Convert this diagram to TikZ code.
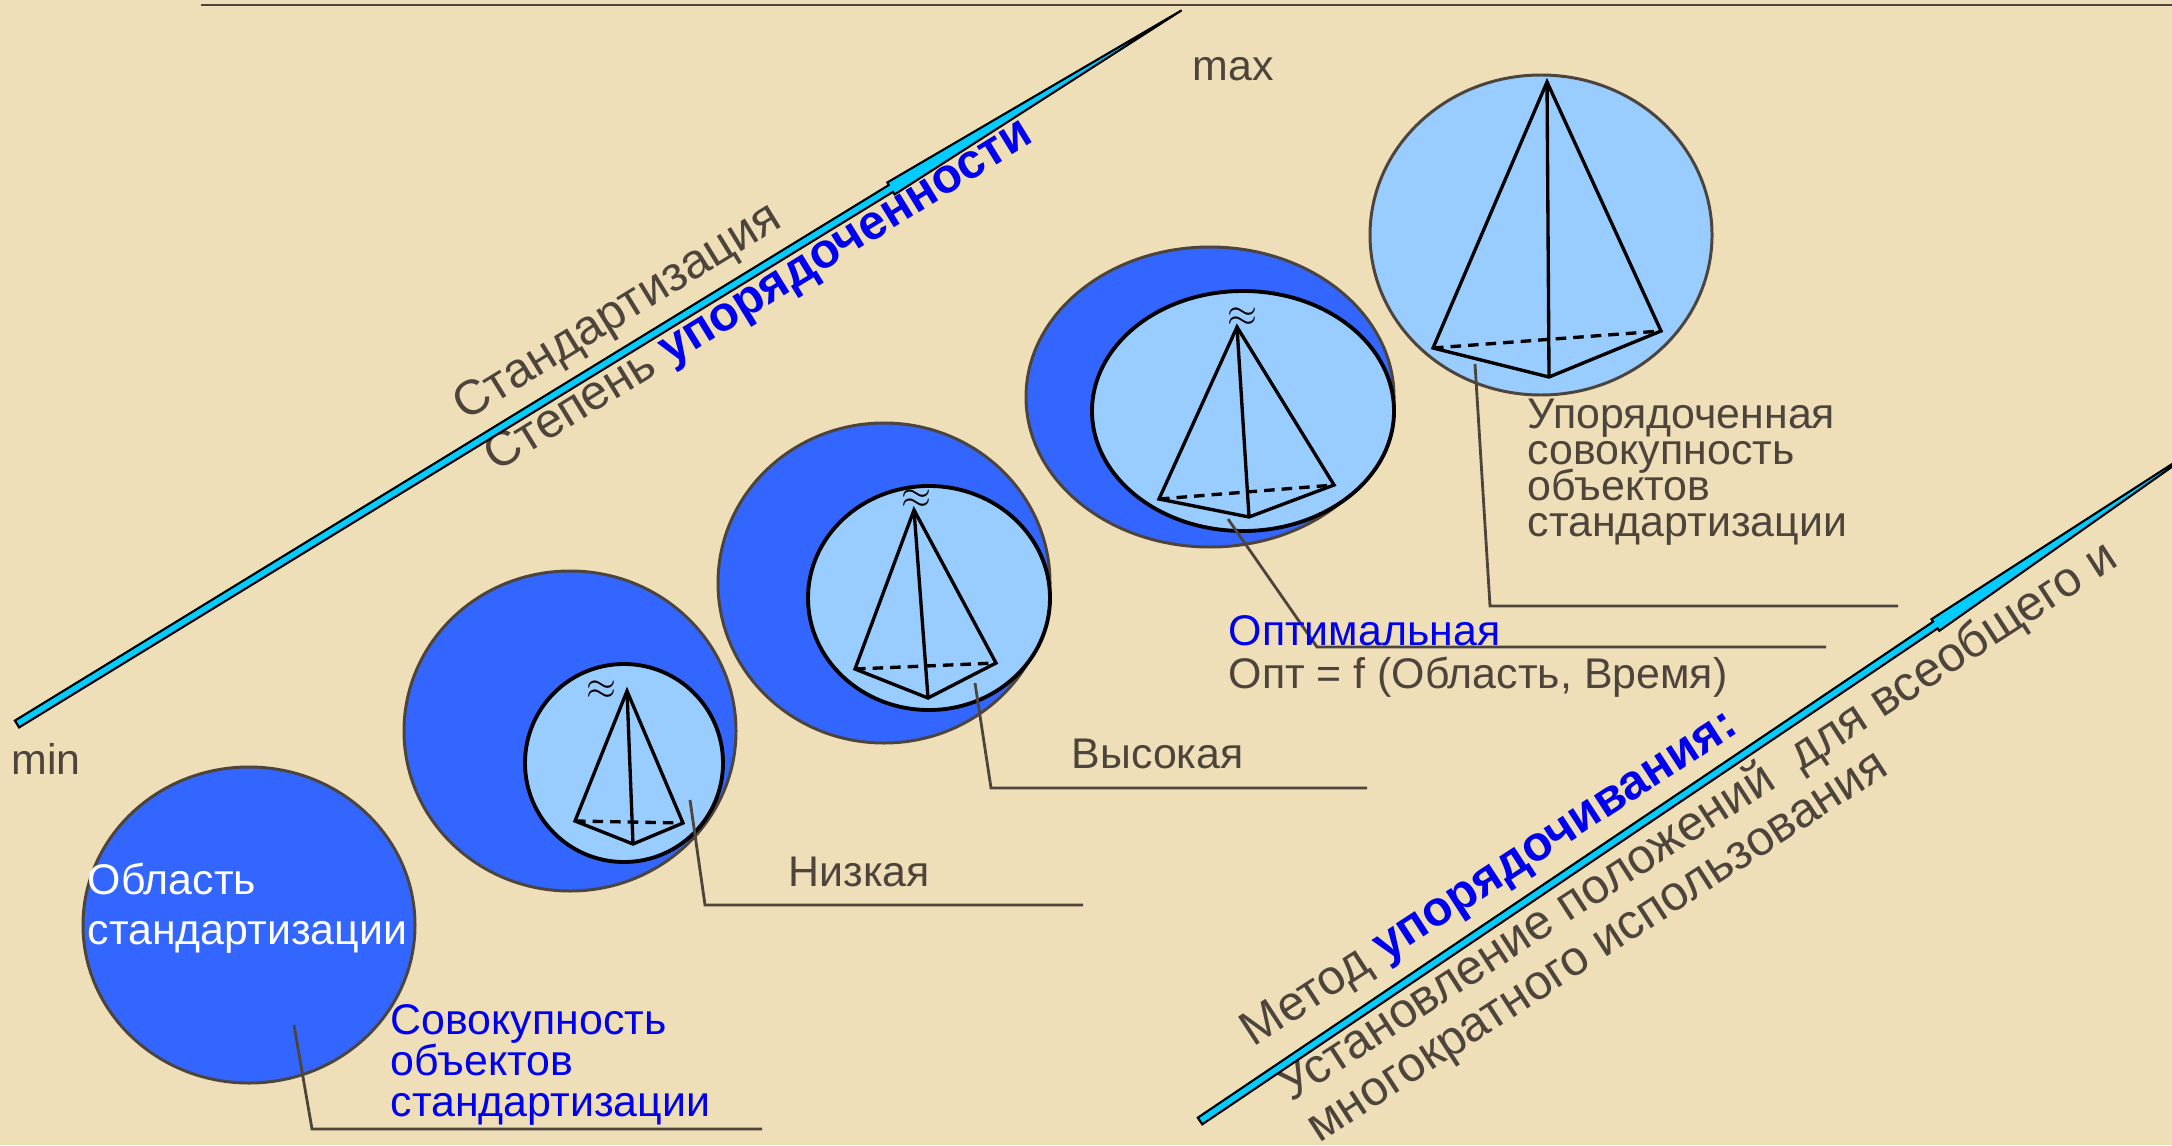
\documentclass[tikz,border=0pt]{standalone}
\usepackage{fontspec}
\setmainfont{Liberation Sans}
\definecolor{paper}{RGB}{238,223,184}
\definecolor{deepblue}{RGB}{51,102,255}
\definecolor{paleblue}{RGB}{153,204,255}
\definecolor{spearcyan}{RGB}{0,204,255}
\definecolor{inkgray}{RGB}{77,68,60}
\definecolor{ordblue}{RGB}{0,0,240}

\begin{document}
\begin{tikzpicture}
\tikzstyle{shell}=[fill=deepblue, draw=inkgray, line width=0.85pt]
\tikzstyle{core}=[fill=paleblue, draw=black, line width=1.1pt]
\tikzstyle{pyr}=[line width=0.95pt]
\tikzstyle{pyrdash}=[line width=0.95pt, dash pattern=on 3pt off 2pt]
\tikzstyle{lead}=[draw=inkgray, line width=0.8pt]
\tikzstyle{spear}=[fill=spearcyan, draw=black, line width=0.6pt]
\tikzstyle{txt}=[anchor=base west, inner sep=0pt, text=inkgray, font=\fontsize{12.2}{14}\selectfont]
\tikzstyle{slanttxt}=[txt, font=\fontsize{13.9}{16}\selectfont]
\tikzstyle{wave}=[inner sep=0pt, font=\fontsize{11}{11}\selectfont]

\useasboundingbox (0,0) rectangle (21.72,11.45);
\fill[paper] (0,0) rectangle (21.72,11.45);
\clip (0,0) rectangle (21.72,11.45);

\path (2.01,11.40) coordinate (top0) (21.72,11.40) coordinate (top1);
\draw[lead] (top0) -- (top1);

\draw[shell] (2.49,2.20) ellipse (1.66 and 1.58);
\draw[shell] (5.70,4.14) ellipse (1.66 and 1.60);
\draw[core] (6.24,3.82) circle (0.99);
\draw[shell] (8.84,5.62) ellipse (1.66 and 1.60);
\draw[core] (9.29,5.47) ellipse (1.21 and 1.12);
\draw[shell] (12.10,7.48) ellipse (1.84 and 1.50);
\draw[core] (12.43,7.34) ellipse (1.51 and 1.20);
\draw[shell, fill=paleblue] (15.41,9.10) ellipse (1.71 and 1.60);

\path (6.27,4.54) coordinate (a2) (5.75,3.24) coordinate (l2) (6.83,3.22) coordinate (r2) (6.33,3.01) coordinate (f2);
\draw[pyr] (l2) -- (a2) -- (r2) -- (f2) -- cycle;
\draw[pyr] (a2) -- (f2);
\draw[pyrdash] (l2) -- (r2);
\path (6.01,4.55) node[wave] (w2) {$\approx$};

\path (9.14,6.35) coordinate (a3) (8.55,4.76) coordinate (l3) (9.96,4.82) coordinate (r3) (9.28,4.47) coordinate (f3);
\draw[pyr] (l3) -- (a3) -- (r3) -- (f3) -- cycle;
\draw[pyr] (a3) -- (f3);
\draw[pyrdash] (l3) -- (r3);
\path (9.16,6.46) node[wave] (w3) {$\approx$};

\path (12.37,8.18) coordinate (a4) (11.59,6.46) coordinate (l4) (13.34,6.60) coordinate (r4) (12.49,6.28) coordinate (f4);
\draw[pyr] (l4) -- (a4) -- (r4) -- (f4) -- cycle;
\draw[pyr] (a4) -- (f4);
\draw[pyrdash] (l4) -- (r4);
\path (12.42,8.28) node[wave] (w4) {$\approx$};

\path (15.47,10.63) coordinate (a5) (14.33,7.97) coordinate (l5) (16.61,8.14) coordinate (r5) (15.49,7.68) coordinate (f5);
\draw[pyr] (l5) -- (a5) -- (r5) -- (f5) -- cycle;
\draw[pyr] (a5) -- (f5);
\draw[pyrdash] (l5) -- (r5);

\path (2.94,1.20) coordinate (s1) (3.12,0.16) coordinate (b1) (7.62,0.16) coordinate (e1);
\path (6.90,3.45) coordinate (s2) (7.05,2.40) coordinate (b2) (10.83,2.40) coordinate (e2);
\path (9.75,4.62) coordinate (s3) (9.91,3.57) coordinate (b3) (13.67,3.57) coordinate (e3);
\path (12.28,6.26) coordinate (s4) (13.17,4.98) coordinate (b4) (18.26,4.98) coordinate (e4);
\path (14.75,7.81) coordinate (s5) (14.90,5.39) coordinate (b5) (18.98,5.39) coordinate (e5);
\draw[lead] (s1) -- (b1) -- (e1);
\draw[lead] (s2) -- (b2) -- (e2);
\draw[lead] (s3) -- (b3) -- (e3);
\draw[lead] (s4) -- (b4) -- (e4);
\draw[lead] (s5) -- (b5) -- (e5);

\path (0.11,3.71) node[txt] (min) {min};
\path (11.92,10.65) node[txt] (max) {max};
\path (0.87,2.51) node[txt, text=white] (area1) {Область};
\path (0.87,2.01) node[txt, text=white] (area2) {стандартизации};
\path (3.90,1.11) node[txt, text=ordblue] (set1) {Совокупность};
\path (3.90,0.70) node[txt, text=ordblue] (set2) {объектов};
\path (3.90,0.29) node[txt, text=ordblue] (set3) {стандартизации};
\path (7.88,2.59) node[txt] (low) {Низкая};
\path (10.71,3.77) node[txt] (high) {Высокая};
\path (12.28,5.00) node[txt, text=ordblue] (opt1) {Оптимальная};
\path (12.28,4.57) node[txt] (opt2) {Опт = f (Область, Время)};
\path (15.27,7.17) node[txt] (ord1) {Упорядоченная};
\path (15.27,6.81) node[txt] (ord2) {совокупность};
\path (15.27,6.45) node[txt] (ord3) {объектов};
\path (15.27,6.09) node[txt] (ord4) {стандартизации};

\path (4.65,7.23) node[slanttxt, rotate=31.6] (std) {Стандартизация};
\path (4.96,6.72) node[slanttxt, rotate=31.6] (deg) {Степень \textcolor{ordblue}{\bfseries упорядоченности}};
\path (12.53,0.97) node[slanttxt, rotate=33] (meth1) {Метод \textcolor{ordblue}{\bfseries упорядочивания:}};
\path (12.91,0.42) node[slanttxt, rotate=33] (meth2) {Установление положений\ \ для всеобщего и};
\path (13.19,0.01) node[slanttxt, rotate=33] (meth3) {многократного использования};

\begin{scope}[shift={(0.17,4.21)}, rotate=31.5]
\draw[spear] (0,-0.04) -- (10.25,-0.04) -- (10.25,-0.07) -- (13.66,0) -- (10.25,0.07) -- (10.25,0.04) -- (0,0.04) -- cycle;
\end{scope}
\begin{scope}[shift={(12.00,0.24)}, rotate=34]
\draw[spear] (0,-0.04) -- (8.87,-0.04) -- (8.87,-0.07) -- (12.28,0) -- (8.87,0.07) -- (8.87,0.04) -- (0,0.04) -- cycle;
\end{scope}
\end{tikzpicture}
\end{document}
